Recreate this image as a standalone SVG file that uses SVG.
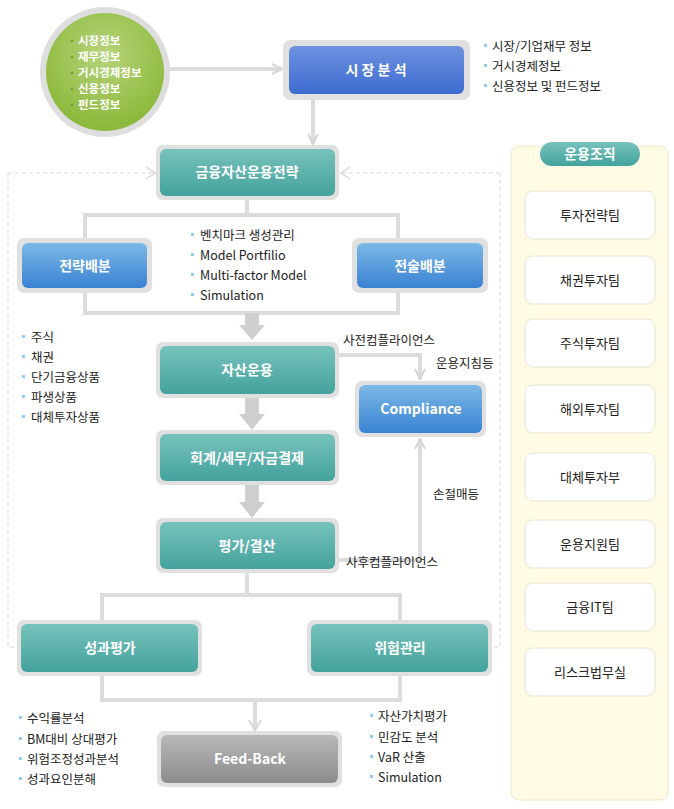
<svg xmlns="http://www.w3.org/2000/svg" width="674" height="809" viewBox="0 0 674 809">
<defs>
<linearGradient id="gb" x1="0" y1="0" x2="0" y2="1"><stop offset="0" stop-color="#7db9e6"/><stop offset="1" stop-color="#3a82d3"/></linearGradient>
<linearGradient id="gb2" x1="0" y1="0" x2="0" y2="1"><stop offset="0" stop-color="#6d92e0"/><stop offset="1" stop-color="#3d6bd0"/></linearGradient>
<linearGradient id="gt" x1="0" y1="0" x2="0" y2="1"><stop offset="0" stop-color="#78c2bc"/><stop offset="1" stop-color="#43a29c"/></linearGradient>
<linearGradient id="gg" x1="0" y1="0" x2="0" y2="1"><stop offset="0" stop-color="#b8b8b8"/><stop offset="1" stop-color="#8c8c8c"/></linearGradient>
<radialGradient id="gc" cx="0.5" cy="0.35" r="0.6"><stop offset="0" stop-color="#b6d47a"/><stop offset="1" stop-color="#8dba3e"/></radialGradient>
<marker id="ar" viewBox="0 0 12 12" refX="11" refY="6" markerWidth="12" markerHeight="12" markerUnits="userSpaceOnUse" orient="auto"><path d="M1,1 L11,6 L1,11" fill="none" stroke="#d6d6d6" stroke-width="2"/></marker>
</defs>
<style>
text{font-family:"Noto Sans CJK KR","Noto Sans",sans-serif}
.ln{fill:none;stroke:#dcdcdc;stroke-width:4}
.dl{fill:none;stroke:#d8d8d8;stroke-width:1;stroke-dasharray:4 3}
.fr{fill:#e0e0e0}
.w{fill:#fff;font-size:14px;font-weight:bold;text-anchor:middle}
.b{fill:#222;font-size:12.5px}
.bu{fill:#8fd0ef}
.card{fill:#fff;stroke:#e8e4d0;stroke-width:1}
.ct{fill:#222;font-size:13px;text-anchor:middle}
.ta{fill:#cfcfcf}
</style>
<g id="connectors">
<line x1="168" y1="69" x2="282" y2="69" class="ln" marker-end="url(#ar)"/>
<line x1="313" y1="100" x2="313" y2="144" class="ln" marker-end="url(#ar)"/>
<path d="M8,173 H154" class="dl"/><path d="M8,173 V647 H17" class="dl"/>
<path d="M146,167 L155,173 L146,179" fill="none" stroke="#d6d6d6" stroke-width="1.5"/>
<path d="M500,173 H342" class="dl"/><path d="M500,173 V647 H492" class="dl"/>
<path d="M350,167 L341,173 L350,179" fill="none" stroke="#d6d6d6" stroke-width="1.5"/>
<path d="M247,200 V215 M85,238 V215 H398 V238 M85,293 V313 H398 V293" class="ln"/>
<polygon points="245,313 259,313 259,325 265,325 252,340 239,325 245,325" class="ta"/>
<polygon points="245,398 259,398 259,414 265,414 252,430 239,414 245,414" class="ta"/>
<polygon points="245,485 259,485 259,502 265,502 252,518 239,502 245,502" class="ta"/>
<path d="M339,355 H420 V379" class="ln" marker-end="url(#ar)"/>
<path d="M339,560 H420 V439" class="ln" marker-end="url(#ar)"/>
<path d="M247,573 V595 M102,620 V595 H400 V620 M102,676 V700 H400 V676 M255,700 V729" class="ln"/>
<path d="M249,720 L255,730 L261,720" fill="none" stroke="#d6d6d6" stroke-width="2"/>
</g>
<g id="n-circle">
<circle cx="105" cy="72" r="65" fill="#dedede"/>
<circle cx="105" cy="72" r="59" fill="url(#gc)"/>
<g fill="#fff" font-size="11.5" font-weight="bold">
<text x="78" y="45">시장정보</text><text x="78" y="61">재무정보</text><text x="78" y="77">거시경제정보</text><text x="78" y="93">신용정보</text><text x="78" y="109">펀드정보</text></g>
<g fill="#7a9c3a"><circle cx="72" cy="41" r="1.3"/><circle cx="72" cy="57" r="1.3"/><circle cx="72" cy="73" r="1.3"/><circle cx="72" cy="89" r="1.3"/><circle cx="72" cy="105" r="1.3"/></g>
</g>
<g id="n-market">
<rect x="283" y="40" width="187" height="60" rx="7" class="fr"/>
<rect x="289" y="46" width="175" height="48" rx="6" fill="url(#gb2)"/>
<text x="376" y="75" class="w">시 장 분 석</text>
</g>
<g id="t-market" class="b">
<rect x="484" y="44" width="3" height="3" class="bu"/><text x="492" y="51">시장/기업재무 정보</text>
<rect x="484" y="64" width="3" height="3" class="bu"/><text x="492" y="71">거시경제정보</text>
<rect x="484" y="84" width="3" height="3" class="bu"/><text x="492" y="91">신용정보 및 펀드정보</text>
</g>
<g id="n-strategy">
<rect x="156" y="145" width="183" height="55" rx="7" class="fr"/>
<rect x="160" y="149" width="175" height="47" rx="6" fill="url(#gt)"/>
<text x="247" y="177" class="w">금융자산운용전략</text>
</g>
<g id="n-saa">
<rect x="17" y="238" width="135" height="55" rx="7" class="fr"/>
<rect x="22" y="243" width="125" height="45" rx="6" fill="url(#gb)"/>
<text x="85" y="271" class="w">전략배분</text>
</g>
<g id="n-taa">
<rect x="352" y="238" width="136" height="55" rx="7" class="fr"/>
<rect x="357" y="243" width="126" height="45" rx="6" fill="url(#gb)"/>
<text x="420" y="271" class="w">전술배분</text>
</g>
<g id="t-mid" class="b">
<rect x="191" y="233" width="3" height="3" class="bu"/><text x="200" y="240">벤치마크 생성관리</text>
<rect x="191" y="253" width="3" height="3" class="bu"/><text x="200" y="260">Model Portfilio</text>
<rect x="191" y="273" width="3" height="3" class="bu"/><text x="200" y="280">Multi-factor Model</text>
<rect x="191" y="293" width="3" height="3" class="bu"/><text x="200" y="300">Simulation</text>
</g>
<g id="t-left" class="b">
<rect x="22" y="335" width="3" height="3" class="bu"/><text x="31" y="342">주식</text>
<rect x="22" y="355" width="3" height="3" class="bu"/><text x="31" y="362">채권</text>
<rect x="22" y="375" width="3" height="3" class="bu"/><text x="31" y="382">단기금융상품</text>
<rect x="22" y="395" width="3" height="3" class="bu"/><text x="31" y="402">파생상품</text>
<rect x="22" y="415" width="3" height="3" class="bu"/><text x="31" y="422">대체투자상품</text>
</g>
<g id="n-asset">
<rect x="156" y="342" width="183" height="56" rx="7" class="fr"/>
<rect x="160" y="346" width="175" height="48" rx="6" fill="url(#gt)"/>
<text x="247" y="375" class="w">자산운용</text>
</g>
<g id="n-acct">
<rect x="156" y="430" width="183" height="55" rx="7" class="fr"/>
<rect x="160" y="434" width="175" height="47" rx="6" fill="url(#gt)"/>
<text x="247" y="463" class="w">회계/세무/자금결제</text>
</g>
<g id="n-eval">
<rect x="156" y="518" width="183" height="55" rx="7" class="fr"/>
<rect x="160" y="522" width="175" height="47" rx="6" fill="url(#gt)"/>
<text x="247" y="551" class="w">평가/결산</text>
</g>
<g id="n-compliance">
<rect x="355" y="381" width="131" height="56" rx="7" class="fr"/>
<rect x="359" y="385" width="123" height="48" rx="6" fill="url(#gb)"/>
<text x="421" y="414" class="w">Compliance</text>
</g>
<g class="b">
<text x="343" y="345">사전컴플라이언스</text>
<text x="436" y="368">운용지침등</text>
<text x="433" y="499">손절매등</text>
<text x="346" y="567">사후컴플라이언스</text>
</g>
<g id="n-perf">
<rect x="17" y="620" width="185" height="56" rx="7" class="fr"/>
<rect x="21" y="624" width="177" height="48" rx="6" fill="url(#gt)"/>
<text x="110" y="653" class="w">성과평가</text>
</g>
<g id="n-risk">
<rect x="307" y="620" width="185" height="56" rx="7" class="fr"/>
<rect x="311" y="624" width="177" height="48" rx="6" fill="url(#gt)"/>
<text x="400" y="653" class="w">위험관리</text>
</g>
<g id="t-perf" class="b">
<rect x="19" y="716" width="3" height="3" class="bu"/><text x="27" y="723">수익률분석</text>
<rect x="19" y="737" width="3" height="3" class="bu"/><text x="27" y="744">BM대비 상대평가</text>
<rect x="19" y="757" width="3" height="3" class="bu"/><text x="27" y="764">위험조정성과분석</text>
<rect x="19" y="777" width="3" height="3" class="bu"/><text x="27" y="784">성과요인분해</text>
</g>
<g id="t-risk" class="b">
<rect x="370" y="714" width="3" height="3" class="bu"/><text x="378" y="721">자산가치평가</text>
<rect x="370" y="735" width="3" height="3" class="bu"/><text x="378" y="742">민감도 분석</text>
<rect x="370" y="755" width="3" height="3" class="bu"/><text x="378" y="762">VaR 산출</text>
<rect x="370" y="775" width="3" height="3" class="bu"/><text x="378" y="782">Simulation</text>
</g>
<g id="n-feedback">
<rect x="157" y="731" width="185" height="56" rx="7" class="fr"/>
<rect x="161" y="735" width="177" height="48" rx="6" fill="url(#gg)"/>
<text x="250" y="764" class="w">Feed-Back</text>
</g>
<g id="n-org">
<rect x="511" y="146" width="157" height="654" rx="8" fill="#fffbe5" stroke="#eee8c8"/>
<rect x="540" y="142" width="100" height="24" rx="12" fill="url(#gt)"/>
<text x="590" y="159" class="w">운용조직</text>
<rect x="525" y="191" width="130" height="48" rx="8" class="card"/><text x="590" y="220" class="ct">투자전략팀</text>
<rect x="525" y="256" width="130" height="48" rx="8" class="card"/><text x="590" y="285" class="ct">채권투자팀</text>
<rect x="525" y="319" width="130" height="48" rx="8" class="card"/><text x="590" y="348" class="ct">주식투자팀</text>
<rect x="525" y="385" width="130" height="48" rx="8" class="card"/><text x="590" y="414" class="ct">해외투자팀</text>
<rect x="525" y="453" width="130" height="48" rx="8" class="card"/><text x="590" y="482" class="ct">대체투자부</text>
<rect x="525" y="520" width="130" height="48" rx="8" class="card"/><text x="590" y="549" class="ct">운용지원팀</text>
<rect x="525" y="583" width="130" height="48" rx="8" class="card"/><text x="590" y="612" class="ct">금융IT팀</text>
<rect x="525" y="648" width="130" height="48" rx="8" class="card"/><text x="590" y="677" class="ct">리스크법무실</text>
</g>
</svg>
